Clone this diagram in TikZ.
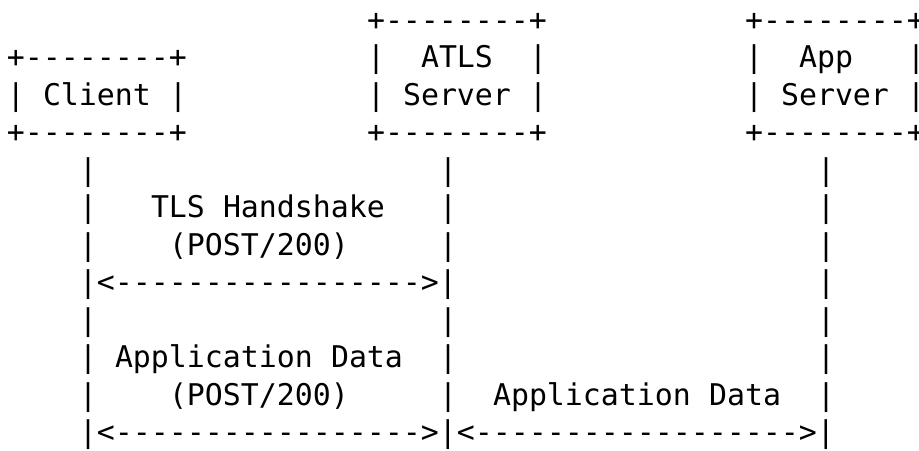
\documentclass[tikz,border=0pt]{standalone}
\usepackage{fontspec}
\setmonofont{DejaVu Sans Mono}
\begin{document}
\begin{tikzpicture}[x=0.75pt,y=-0.75pt,
  asc/.style={font=\ttfamily\fontsize{22.42pt}{28pt}\selectfont,inner sep=0pt,outer sep=0pt,anchor=base west,text=black}]
\newcommand\frag[4]{\node[asc] (#1) at ({7+18*#2},{30.3+37.5*(#3-1)}) {#4};}
\useasboundingbox (0,0) rectangle (919,450);
\fill[white] (0,0) rectangle (919,450);
\clip (0,0) rectangle (919,450);
% row 1
\frag{atlsTop}{20}{1}{+--------+}
\frag{appTop}{41}{1}{+--------+}
% row 2
\frag{clientTop}{0}{2}{+--------+}
\frag{atlsL2}{20}{2}{|}
\frag{atlsName}{23}{2}{ATLS}
\frag{atlsR2}{29}{2}{|}
\frag{appL2}{41}{2}{|}
\frag{appName}{44}{2}{App}
\frag{appR2}{50}{2}{|}
% row 3
\frag{clientL}{0}{3}{|}
\frag{clientName}{2}{3}{Client}
\frag{clientR}{9}{3}{|}
\frag{atlsL3}{20}{3}{|}
\frag{atlsSrv}{22}{3}{Server}
\frag{atlsR3}{29}{3}{|}
\frag{appL3}{41}{3}{|}
\frag{appSrv}{43}{3}{Server}
\frag{appR3}{50}{3}{|}
% row 4
\frag{clientBot}{0}{4}{+--------+}
\frag{atlsBot}{20}{4}{+--------+}
\frag{appBot}{41}{4}{+--------+}
% lifelines
\foreach \r in {5,6,7,9,10,11}{
  \node[asc] (c\r) at ({7+18*4},{30.3+37.5*(\r-1)}) {|};
  \node[asc] (a\r) at ({7+18*24},{30.3+37.5*(\r-1)}) {|};
}
\foreach \r in {5,6,7,8,9,10,11}{
  \node[asc] (s\r) at ({7+18*45},{30.3+37.5*(\r-1)}) {|};
}
% labels
\frag{tlsA}{8}{6}{TLS}
\frag{tlsB}{12}{6}{Handshake}
\frag{post1}{9}{7}{(POST/200)}
\frag{msg1}{4}{8}{|<----------------->|}
\frag{appdA}{6}{10}{Application}
\frag{appdB}{18}{10}{Data}
\frag{post2}{9}{11}{(POST/200)}
\frag{appdC}{27}{11}{Application}
\frag{appdD}{39}{11}{Data}
\frag{msg2}{4}{12}{|<----------------->|<------------------>|}
\end{tikzpicture}
\end{document}
